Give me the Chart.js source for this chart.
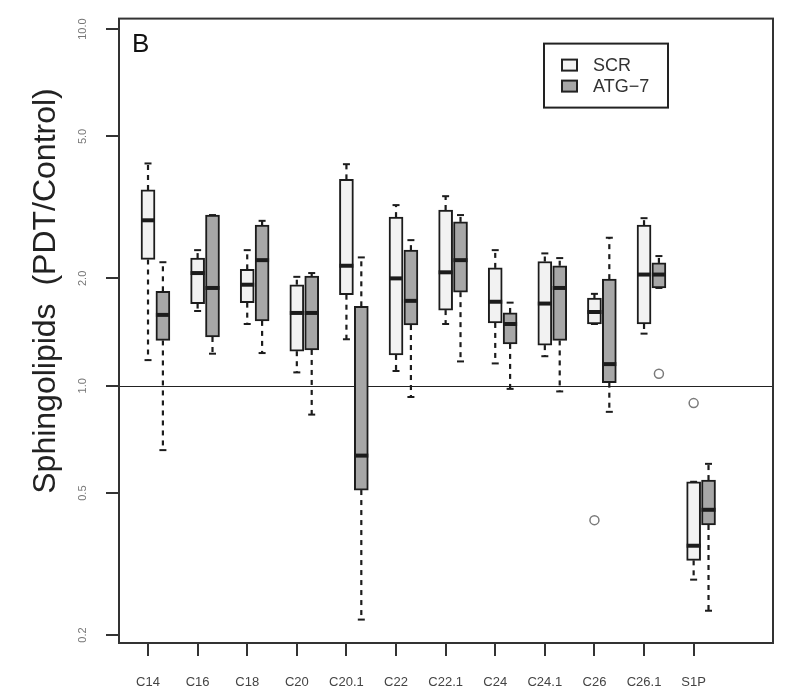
<!DOCTYPE html>
<html>
<head>
<meta charset="utf-8">
<script src="https://cdn.jsdelivr.net/npm/chart.js@4.4.1/dist/chart.umd.min.js"></script>
<style>
  body { margin: 0; background: #fff; }
</style>
</head>
<body>
<canvas id="boxChart" width="800" height="696"></canvas>
<script>
// categories on the x axis
const categories = ['C14', 'C16', 'C18', 'C20', 'C20.1', 'C22', 'C22.1', 'C24', 'C24.1', 'C26', 'C26.1', 'S1P'];
const yTicks = [0.2, 0.5, 1.0, 2.0, 5.0, 10.0];

// SCR: whisker ends, quartiles, medians
const scrMin    = [1.18, 1.62, 1.49, 1.09, 1.35, 1.10, 1.49, 1.155, 1.21, 1.49, 1.40, 0.286];
const scrQ1     = [2.26, 1.70, 1.71, 1.25, 1.80, 1.22, 1.63, 1.50, 1.30, 1.49, 1.49, 0.324];
const scrMedian = [2.91, 2.07, 1.92, 1.60, 2.17, 2.00, 2.08, 1.72, 1.70, 1.61, 2.05, 0.356];
const scrQ3     = [3.54, 2.28, 2.12, 1.92, 3.79, 2.97, 3.11, 2.14, 2.23, 1.76, 2.82, 0.538];
const scrMax    = [4.20, 2.40, 2.40, 2.02, 4.18, 3.21, 3.40, 2.40, 2.35, 1.81, 2.95, 0.538];

// ATG-7
const atgMin    = [0.66, 1.23, 1.235, 0.83, 0.221, 0.93, 1.17, 0.98, 0.964, 0.845, 1.88, 0.234];
const atgQ1     = [1.34, 1.37, 1.52, 1.26, 0.51, 1.48, 1.83, 1.31, 1.34, 1.02, 1.88, 0.407];
const atgMedian = [1.58, 1.88, 2.25, 1.60, 0.637, 1.73, 2.25, 1.49, 1.88, 1.15, 2.05, 0.449];
const atgQ3     = [1.84, 3.01, 2.82, 2.03, 1.67, 2.40, 2.88, 1.60, 2.17, 1.99, 2.21, 0.544];
const atgMax    = [2.22, 3.01, 2.90, 2.07, 2.29, 2.56, 3.01, 1.71, 2.28, 2.60, 2.31, 0.604];

// outliers: category index + value
const scrOutliers = [{ cat: 9, value: 0.42 }, { cat: 11, value: 0.894 }];
const atgOutliers = [{ cat: 10, value: 1.08 }];

const atgShift = 0.3;   // ATG-7 box sits just right of the SCR box
const boxPx = 14;
const scrFill = '#f2f2f2';
const atgFill = '#a7a7a7';
const ink = '#1c1c1c';

Chart.defaults.font.family = '"Liberation Sans", Arial, sans-serif';

const series = [
  { shift: 0, min: scrMin, med: scrMedian, q1: scrQ1, q3: scrQ3, max: scrMax },
  { shift: atgShift, min: atgMin, med: atgMedian, q1: atgQ1, q3: atgQ3, max: atgMax }
];

// whiskers, staples, medians, frame, legend and labels R style
const boxExtras = {
  id: 'boxExtras',
  beforeDatasetsDraw(chart) {
    const { ctx, chartArea: a, scales: { y } } = chart;
    const py = Math.round(y.getPixelForValue(1)) + 0.5;
    ctx.save();
    ctx.strokeStyle = '#222';
    ctx.lineWidth = 1.2;
    ctx.beginPath();
    ctx.moveTo(a.left, py);
    ctx.lineTo(a.right, py);
    ctx.stroke();
    ctx.restore();
  },
  afterDatasetsDraw(chart) {
    const { ctx, scales: { x, y } } = chart;
    ctx.save();
    ctx.strokeStyle = ink;
    series.forEach(s => {
      categories.forEach((c, i) => {
        const px = x.getPixelForValue(i + s.shift);
        const ends = [[s.q3[i], s.max[i]], [s.q1[i], s.min[i]]];
        ends.forEach(([from, to]) => {
          const y0 = y.getPixelForValue(from);
          const y1 = y.getPixelForValue(to);
          ctx.lineWidth = 2.2;
          ctx.setLineDash([5, 5]);
          ctx.beginPath();
          ctx.moveTo(px, y0);
          ctx.lineTo(px, y1);
          ctx.stroke();
          ctx.setLineDash([]);
          ctx.lineWidth = 2;
          ctx.beginPath();
          ctx.moveTo(px - 3.5, y1);
          ctx.lineTo(px + 3.5, y1);
          ctx.stroke();
        });
        const ym = y.getPixelForValue(s.med[i]);
        ctx.lineWidth = 4;
        ctx.beginPath();
        ctx.moveTo(px - boxPx / 2, ym);
        ctx.lineTo(px + boxPx / 2, ym);
        ctx.stroke();
      });
    });
    ctx.restore();
  },
  afterDraw(chart) {
    const { ctx, chartArea: a } = chart;
    ctx.save();
    // plot frame
    ctx.strokeStyle = '#333';
    ctx.lineWidth = 2;
    ctx.strokeRect(a.left, a.top, a.right - a.left, a.bottom - a.top);

    // panel letter
    ctx.fillStyle = '#111';
    ctx.font = '26px "Liberation Sans", Arial, sans-serif';
    ctx.textBaseline = 'top';
    ctx.fillText('B', a.left + 13, a.top + 13);

    // legend
    const lx = a.right - 229, ly = a.top + 25;
    ctx.strokeStyle = '#222';
    ctx.lineWidth = 2;
    ctx.strokeRect(lx, ly, 124, 64);
    [['SCR', scrFill], ['ATG\u22127', atgFill]].forEach(([t, f], k) => {
      const ry = ly + 16 + k * 21;
      ctx.fillStyle = f;
      ctx.fillRect(lx + 18, ry, 15, 11);
      ctx.strokeRect(lx + 18, ry, 15, 11);
      ctx.fillStyle = '#333';
      ctx.font = '18px "Liberation Sans", Arial, sans-serif';
      ctx.textBaseline = 'middle';
      ctx.fillText(t, lx + 49, ry + 6);
    });

    // y axis title
    ctx.translate(46, 291);
    ctx.rotate(-Math.PI / 2);
    ctx.fillStyle = '#222';
    ctx.font = '32px "Liberation Sans", Arial, sans-serif';
    ctx.textAlign = 'center';
    ctx.textBaseline = 'middle';
    ctx.fillText('Sphingolipids  (PDT/Control)', 0, 0);
    ctx.restore();
  }
};

const boxData = (q1, q3, shift) => categories.map((c, i) => ({ x: i + shift, y: [q1[i], q3[i]] }));

new Chart(document.getElementById('boxChart'), {
  type: 'bar',
  data: {
    datasets: [
      {
        label: 'SCR',
        data: boxData(scrQ1, scrQ3, 0),
        backgroundColor: scrFill,
        borderColor: ink,
        borderWidth: 2,
        borderSkipped: false,
        barThickness: boxPx,
        grouped: false
      },
      {
        label: 'ATG-7',
        data: boxData(atgQ1, atgQ3, atgShift),
        backgroundColor: atgFill,
        borderColor: ink,
        borderWidth: 2,
        borderSkipped: false,
        barThickness: boxPx,
        grouped: false
      },
      {
        type: 'scatter',
        label: 'outliers',
        data: scrOutliers.map(o => ({ x: o.cat, y: o.value }))
          .concat(atgOutliers.map(o => ({ x: o.cat + atgShift, y: o.value }))),
        pointRadius: 4.5,
        pointBorderWidth: 1.5,
        borderColor: '#7a7a7a',
        backgroundColor: 'rgba(0,0,0,0)'
      }
    ]
  },
  options: {
    responsive: false,
    animation: false,
    devicePixelRatio: 1,
    layout: { padding: { top: 17, right: 27, left: 0, bottom: 0 } },
    plugins: { legend: { display: false }, tooltip: { enabled: false } },
    scales: {
      x: {
        type: 'linear',
        min: -0.585,
        max: 12.6,
        offset: false,
        border: { display: false },
        grid: { display: true, offset: false, drawOnChartArea: false, drawTicks: true, tickLength: 13, color: '#333', lineWidth: 2 },
        ticks: {
          autoSkip: false,
          maxRotation: 0,
          padding: 19,
          color: '#444',
          font: { size: 13 },
          callback: v => categories[v]
        },
        afterBuildTicks: s => { s.ticks = categories.map((c, i) => ({ value: i })); },
        afterFit: s => { s.height = 53; }
      },
      y: {
        type: 'logarithmic',
        min: 0.19,
        max: 10.7,
        border: { display: false },
        grid: { display: true, drawOnChartArea: false, drawTicks: true, tickLength: 13, color: '#333', lineWidth: 2 },
        ticks: {
          minRotation: 90,
          maxRotation: 90,
          crossAlign: 'center',
          padding: 12,
          color: '#777',
          font: { size: 11 },
          callback: v => Number(v).toFixed(1)
        },
        afterBuildTicks: s => { s.ticks = yTicks.map(v => ({ value: v })); },
        afterFit: s => { s.width = 119; }
      }
    }
  },
  plugins: [boxExtras]
});
</script>
</body>
</html>
